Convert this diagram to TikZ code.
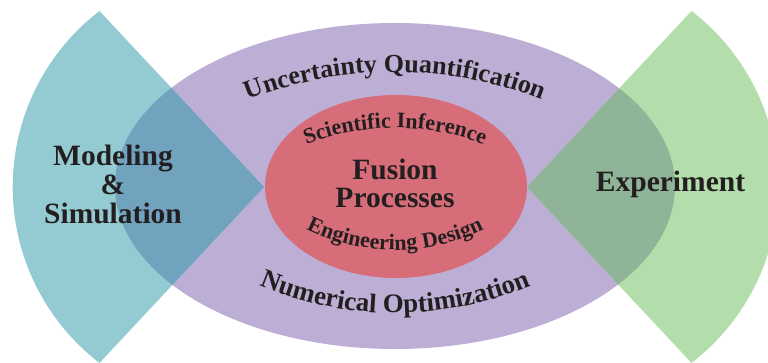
\documentclass[tikz,border=0pt]{standalone}
\usepackage{fontspec}
\setmainfont{Liberation Serif}
\usetikzlibrary{decorations.text}
\definecolor{tealf}{HTML}{94CBD3}
\definecolor{purp}{HTML}{BCAED4}
\definecolor{tealov}{HTML}{71A3BF}
\definecolor{grn}{HTML}{B3DEAC}
\definecolor{grnov}{HTML}{8FB497}
\definecolor{redf}{HTML}{D76D79}
\definecolor{ink}{HTML}{231F20}
\newcommand\bigfont{\bfseries\fontsize{29.5}{29}\selectfont}
\newcommand\arcfontA{\bfseries\fontsize{26}{26}\selectfont}
\newcommand\arcfontN{\bfseries\fontsize{26.8}{26.8}\selectfont}
\newcommand\arcfontB{\bfseries\fontsize{22}{22}\selectfont}
\tikzset{
  lbl/.style={text=ink, inner sep=0pt, align=center, font=\bigfont},
  arctext/.style={decorate, decoration={text along path, text align=center, text color=ink, text={#1}}}
}
\begin{document}
\begin{tikzpicture}[x=1pt,y=-1pt]
\useasboundingbox (0,0) rectangle (768,363);
\clip (0,0) rectangle (768,363);
% outer ellipse
\fill[purp] (395,186) ellipse [x radius=280, y radius=163];
% left wedge
\fill[tealf] (264,187) -- (99.5,11) arc[start angle=232.5, end angle=127.5, radius=221.8] -- cycle;
% right wedge
\fill[grn] (527,187) -- (691.5,11) arc[start angle=-52.5, end angle=52.5, radius=221.8] -- cycle;
% overlaps
\begin{scope}
  \clip (264,187) -- (99.5,11) arc[start angle=232.5, end angle=127.5, radius=221.8] -- cycle;
  \fill[tealov] (395,186) ellipse [x radius=280, y radius=163];
\end{scope}
\begin{scope}
  \clip (527,187) -- (691.5,11) arc[start angle=-52.5, end angle=52.5, radius=221.8] -- cycle;
  \fill[grnov] (395,186) ellipse [x radius=280, y radius=163];
\end{scope}
% inner ellipse
\fill[redf] (396,186.5) ellipse [x radius=131, y radius=91.5];
% labels
\node[lbl] (ms) at (113,184) {Modeling\\\&\\Simulation};
\node[lbl, anchor=base] (exp) at (670.5,192) {Experiment};
\node[lbl, font=\bfseries\fontsize{29.5}{27.5}\selectfont] (fp) at (395,183.5) {Fusion\\Processes};
% curved texts
\path[arctext={|\arcfontA|Uncertainty Quantification}] (395,472) ++(245:400) arc[start angle=245, end angle=295, radius=400];
\path[arctext={|\arcfontN|Numerical Optimization}] (395,-38) ++(115:351) arc[start angle=115, end angle=65, radius=351];
\path[arctext={|\arcfontB|Scientific Inference}] (395,375) ++(245:247) arc[start angle=245, end angle=295, radius=247];
\path[arctext={|\arcfontB|Engineering Design}] (395,46) ++(120:204) arc[start angle=120, end angle=60, radius=204];
\end{tikzpicture}
\end{document}
